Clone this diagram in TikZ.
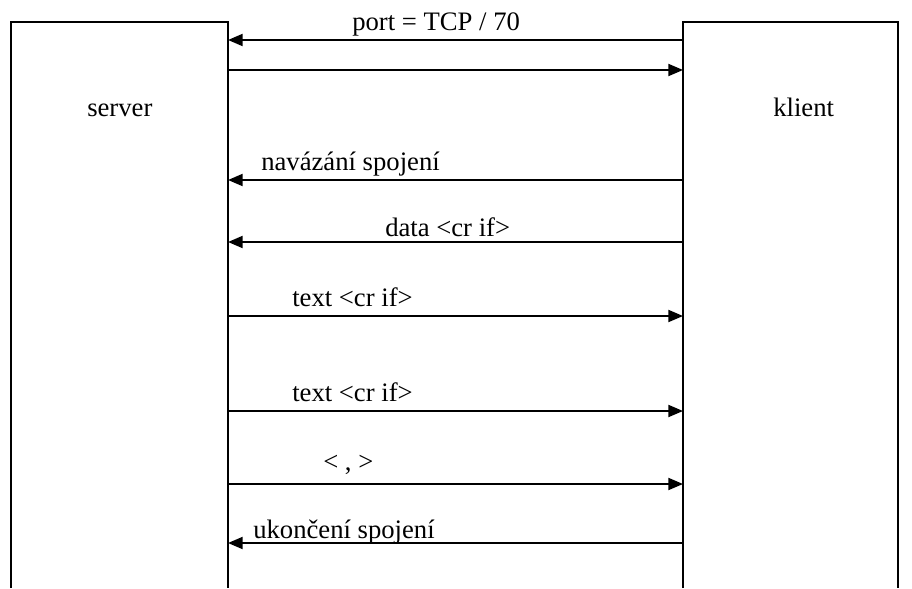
\documentclass[tikz,border=0pt]{standalone}
\usepackage{fontspec}
\setmainfont{Liberation Serif}
\usetikzlibrary{positioning,calc,arrows.meta}

\begin{document}
\begin{tikzpicture}[x=0.75pt,y=-0.75pt,
    msg/.style={-{Triangle[length=11pt,width=9pt]}, line width=1.4pt},
    lbl/.style={font=\fontsize{20pt}{24pt}\selectfont, inner sep=0pt, anchor=base west}]
    \useasboundingbox (0,0) rectangle (912,588);

    % Server box (open at the bottom)
    \draw[line width=1.4pt] (11,588) -- (11,22) -- (228,22) -- (228,588);
    \node[lbl] (server) at (87,117) {server};

    % Client box (open at the bottom)
    \draw[line width=1.4pt] (683,588) -- (683,22) -- (898,22) -- (898,588);
    \node[lbl] (klient) at (773,117) {klient};

    % Message end points on the two boxes
    \foreach \n/\y in {1/40,2/70,3/180,4/242,5/316,6/411,7/484,8/543} {
        \coordinate (s\n) at (228,\y);
        \coordinate (c\n) at (683,\y);
    }

    % Messages
    \draw[msg] (c1) -- (s1);
    \node[lbl] (m1) at (352,31) {port = TCP / 70};
    \draw[msg] (s2) -- (c2);

    \draw[msg] (c3) -- (s3);
    \node[lbl] (m3) at (261,170) {navázání spojení};

    \draw[msg] (c4) -- (s4);
    \node[lbl] (m4) at (385,236) {data <cr if>};

    \draw[msg] (s5) -- (c5);
    \node[lbl] (m5) at (292,306) {text <cr if>};

    \draw[msg] (s6) -- (c6);
    \node[lbl] (m6) at (292,401) {text <cr if>};

    \draw[msg] (s7) -- (c7);
    \node[lbl] (m7) at (323,470) {< , >};

    \draw[msg] (c8) -- (s8);
    \node[lbl] (m8) at (253,538) {ukončení spojení};

\end{tikzpicture}
\end{document}
